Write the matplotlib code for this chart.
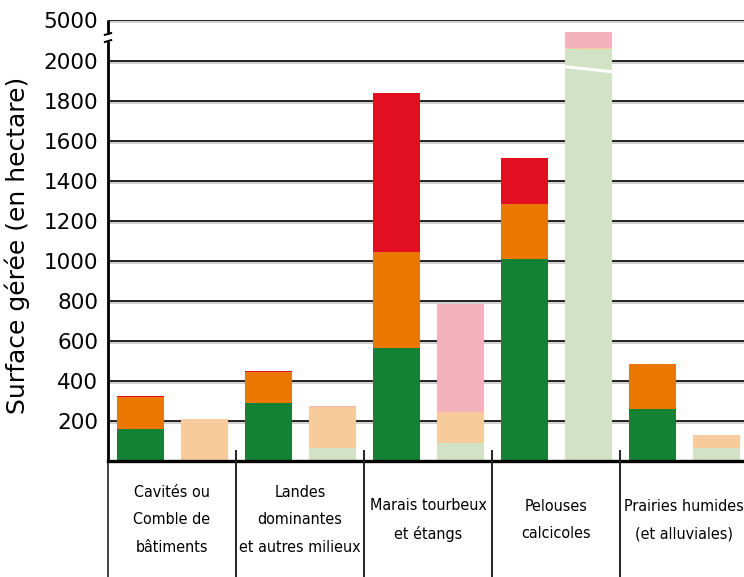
import matplotlib
matplotlib.use("Agg")
import matplotlib.pyplot as plt
import matplotlib.patheffects as pe
import numpy as np

categories = ["Cavités ou\nComble de\nbâtiments",
              "Landes\ndominantes\net autres milieux",
              "Marais tourbeux\net étangs",
              "Pelouses\ncalcicoles",
              "Prairies humides\n(et alluviales)"]

# first bar of each group
dark_green = [160, 290, 567, 1010, 260]
orange = [162, 157, 478, 275, 225]
red = [4, 3, 795, 230, 0]
# second bar of each group
light_green = [0, 67, 90, 2880, 67]
peach = [208, 205, 155, 70, 61]
pink = [0, 3, 540, 1170, 2]
red2 = [3, 0, 0, 0, 0]

yticks = [200, 400, 600, 800, 1000, 1200, 1400, 1600, 1800, 2000, 5000]

C_GREEN = "#138232"
C_ORANGE = "#ec7703"
C_RED = "#e10f1f"
C_LGREEN = "#d1e3c4"
C_PEACH = "#f8cb9c"
C_PINK = "#f2b1bb"

BREAK = 2000
SQUEEZE = 205 / 3000  # scale above the break


def forward(v):
    v = np.asarray(v, dtype=float)
    return np.where(v <= BREAK, v, BREAK + (v - BREAK) * SQUEEZE)


def inverse(u):
    u = np.asarray(u, dtype=float)
    return np.where(u <= BREAK, u, BREAK + (u - BREAK) / SQUEEZE)


fig = plt.figure(figsize=(7.44, 5.77), dpi=100)
ax = fig.add_axes([108 / 744, 116 / 577, 1 - 108 / 744, 441 / 577])
ax.set_yscale("function", functions=(forward, inverse))
ax.set_ylim(0, 5000)
ax.set_xlim(0, 636 / 128)

n = len(categories)
grp = np.arange(n)
x1 = grp + 32.5 / 128
x2 = grp + 96.5 / 128
w = 47 / 128

# grid lines with a light shadow
for v in yticks:
    ax.axhline(v, color="#222222", lw=1.4, zorder=0,
               path_effects=[pe.SimpleLineShadow(offset=(0, -1.5), shadow_color="#d0d0d0", alpha=1),
                             pe.Normal()])

b = np.zeros(n)
for vals, col in [(dark_green, C_GREEN), (orange, C_ORANGE), (red, C_RED)]:
    ax.bar(x1, vals, w, bottom=b, color=col, zorder=2, linewidth=0)
    b = b + np.array(vals)
b = np.zeros(n)
for vals, col in [(light_green, C_LGREEN), (peach, C_PEACH), (pink, C_PINK), (red2, C_RED)]:
    ax.bar(x2, vals, w, bottom=b, color=col, zorder=2, linewidth=0)
    b = b + np.array(vals)

# white slash marking the break in the tall bar
ax.plot([x2[3] - w / 2, x2[3] + w / 2], [1972, 1946], color="white", lw=2.2, zorder=3)

ax.set_yticks(yticks)
ax.set_yticklabels([str(v) for v in yticks], fontsize=15.5, family="DejaVu Sans")
ax.tick_params(axis="y", length=0, pad=7)
ax.set_xticks([])
for s in ["top", "right", "left"]:
    ax.spines[s].set_visible(False)
ax.spines["bottom"].set_linewidth(2.4)
ax.spines["bottom"].set_zorder(4)

ax.set_ylabel("Surface gérée (en hectare)", fontsize=18, family="DejaVu Sans")
ax.yaxis.set_label_coords(-0.122, 0.49)

# left axis with a break
ax.plot([0, 0], [0, 3460], color="black", lw=2, clip_on=False, zorder=5, solid_capstyle="butt")
ax.plot([0, 0], [3980, 5000], color="black", lw=2, clip_on=False, zorder=5, solid_capstyle="butt")
ax.plot([-0.025, 0.025], [3390, 3530], color="black", lw=1.4, clip_on=False, zorder=5)
ax.plot([-0.025, 0.025], [3910, 4050], color="black", lw=1.4, clip_on=False, zorder=5)

# category separators below the axis
tr = ax.get_xaxis_transform()
ax.plot([0, 0], [-116 / 441, 0], transform=tr, color="#222222", lw=1.2, clip_on=False)
for g in range(1, n):
    ax.plot([g, g], [-116 / 441, 10 / 441], transform=tr, color="#222222", lw=1.4, clip_on=False,
            zorder=5)

for i, lab in enumerate(categories):
    ax.text(i + 0.5, -59 / 441, lab, transform=tr, ha="center", va="center",
            fontsize=11.5, linespacing=2.05, family="DejaVu Sans", fontstretch="condensed")

fig.savefig("out.png", dpi=100)
